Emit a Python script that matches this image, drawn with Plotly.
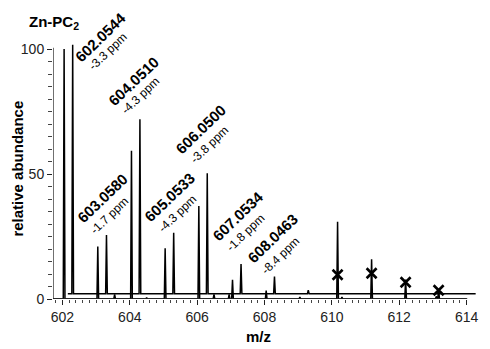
import plotly.graph_objects as go

# ---- data ----
# trace drawn on the zero baseline
A_MZ = [602.05, 603.05, 603.55, 604.05, 604.50, 605.05, 606.05, 606.50, 606.95,
        607.05, 608.05, 609.05, 610.17, 610.30, 611.18, 612.19, 613.10, 613.17]
A_INT = [100.0, 21.0, 1.8, 59.3, 0.6, 20.3, 37.2, 1.8, 1.8,
         7.7, 3.4, 0.8, 30.9, 0.8, 15.9, 7.8, 1.0, 4.0]
A_SPAN = [601.72, 614.02]

# offset trace (displayed shifted right and up)
B_MZ = [602.0544, 603.0580, 604.0510, 605.0533, 606.0500, 607.0534, 608.0463, 609.05]
B_INT = [99.6, 23.5, 69.8, 24.4, 48.2, 11.9, 6.9, 1.4]
B_SPAN = [601.91, 614.02]
B_X_OFFSET = 0.25
B_Y_OFFSET = 2.1

# crossed peaks
X_MZ = [610.17, 611.18, 612.19, 613.17]
X_INT = [9.7, 10.3, 6.7, 3.5]

# labels
LBL_MASS = ["602.0544", "603.0580", "604.0510", "605.0533", "606.0500", "607.0534", "608.0463"]
LBL_PPM = ["-3.3 ppm", "-1.7 ppm", "-4.3 ppm", "-4.3 ppm", "-3.8 ppm", "-1.8 ppm", "-8.4 ppm"]
# label centre positions (axis coords)
LBL_MASS_XY = [(603.116, 104.6), (603.175, 40.4), (604.096, 87.2), (605.165, 40.8),
               (606.086, 68.0), (607.185, 33.2), (608.224, 24.4)]
LBL_PPM_XY = [(603.324, 99.0), (603.383, 33.2), (604.304, 81.2), (605.403, 34.0),
              (606.353, 61.6), (607.423, 26.4), (608.462, 17.2)]

X_TICKS = [602, 604, 606, 608, 610, 612, 614]
Y_TICKS = [0, 50, 100]

Y_MAX = 104


def stick_profile(mz, inten, span, dx=0.0, base=0.0, w=0.025):
    xs, ys = [span[0] + dx], [base]
    for m, h in sorted(zip(mz, inten)):
        xs += [m + dx - w, m + dx, m + dx + w]
        ys += [base, base + h, base]
    xs.append(span[1] + dx)
    ys.append(base)
    return xs, ys


FONT = "Liberation Sans, Arial, sans-serif"

fig = go.Figure()
ax, ay = stick_profile(A_MZ, A_INT, A_SPAN)
fig.add_trace(go.Scatter(x=ax, y=ay, mode="lines", line=dict(color="black", width=1.5),
                         hoverinfo="skip", showlegend=False))
bx, by = stick_profile(B_MZ, B_INT, B_SPAN, dx=B_X_OFFSET, base=B_Y_OFFSET)
fig.add_trace(go.Scatter(x=bx, y=by, mode="lines", line=dict(color="black", width=1.5),
                         hoverinfo="skip", showlegend=False))
fig.add_trace(go.Scatter(x=X_MZ, y=X_INT, mode="markers",
                         marker=dict(symbol="x-thin", size=10,
                                     line=dict(color="black", width=2.6)),
                         hoverinfo="skip", showlegend=False))

for txt, (x, y) in zip(LBL_MASS, LBL_MASS_XY):
    fig.add_annotation(x=x, y=y / Y_MAX, yref="paper", text="<b>%s</b>" % txt,
                       showarrow=False, textangle=-44, xanchor="center", yanchor="middle",
                       font=dict(family=FONT, size=15, color="black"))
for txt, (x, y) in zip(LBL_PPM, LBL_PPM_XY):
    fig.add_annotation(x=x, y=y / Y_MAX, yref="paper", text=txt, showarrow=False,
                       textangle=-44, xanchor="center", yanchor="middle",
                       font=dict(family=FONT, size=12, color="black"))

fig.add_annotation(xref="paper", yref="paper", x=-0.0615, y=1.065, xanchor="left",
                   yanchor="middle", showarrow=False,
                   text="<b>Zn-PC<sub>2</sub></b>",
                   font=dict(family=FONT, size=15, color="black"))
# axis titles
fig.add_annotation(xref="paper", yref="paper", x=0.485, y=-0.146, showarrow=False,
                   xanchor="center", yanchor="middle", text="<b>m/z</b>",
                   font=dict(family=FONT, size=15, color="black"))
fig.add_annotation(xref="paper", yref="paper", x=-0.086, y=0.5, showarrow=False,
                   xanchor="center", yanchor="middle", textangle=-90,
                   text="<b>relative abundance</b>",
                   font=dict(family=FONT, size=15, color="black"))

# axis lines
fig.add_shape(type="line", xref="x", yref="y", x0=A_SPAN[0], x1=614.0, y0=0, y1=0,
              line=dict(color="#222", width=1.3))
fig.add_shape(type="line", xref="x", yref="y", x0=A_SPAN[0], x1=A_SPAN[0], y0=0, y1=100.5,
              line=dict(color="#222", width=1.3))
# faint border at right edge of the picture
fig.add_shape(type="line", xref="paper", yref="paper", x0=1.0236, x1=1.0236, y0=-0.18, y1=1.14,
              line=dict(color="#dcdcdc", width=1))

minor_x = [round(601.8 + 0.2 * i, 1) for i in range(62) if 601.8 + 0.2 * i <= 614.01]
minor_y = [5 * i for i in range(21)]

# page body adds an 8px margin, so the figure is 8px smaller and margins shifted
fig.update_layout(
    width=482, height=341,
    margin=dict(l=45, r=14, t=31, b=50, autoexpand=False),
    paper_bgcolor="white", plot_bgcolor="white",
    font=dict(family=FONT, color="#222"),
    xaxis=dict(range=[601.72, 614.28], showgrid=False, zeroline=False, showline=False,
               automargin=False,
               tickmode="array", tickvals=X_TICKS, ticktext=[str(t) for t in X_TICKS],
               ticks="outside", ticklen=5, tickwidth=1, tickcolor="#222",
               tickfont=dict(size=14, family=FONT, color="#222"),
               minor=dict(tickmode="array", tickvals=minor_x, ticks="outside", ticklen=3,
                          tickwidth=1, tickcolor="#444", showgrid=False)),
    yaxis=dict(range=[0, Y_MAX], showgrid=False, zeroline=False, showline=False,
               automargin=False,
               tickmode="array", tickvals=Y_TICKS, ticktext=[str(t) for t in Y_TICKS],
               ticks="outside", ticklen=5, tickwidth=1, tickcolor="#222",
               tickfont=dict(size=14, family=FONT, color="#222"),
               minor=dict(tickmode="array", tickvals=minor_y, ticks="outside", ticklen=4,
                          tickwidth=1, tickcolor="#444", showgrid=False)),
)

fig.write_html("out.html")
